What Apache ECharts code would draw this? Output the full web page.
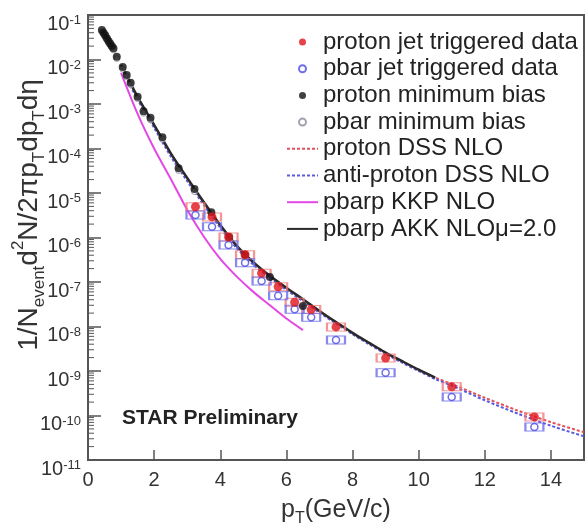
<!DOCTYPE html>
<html>
<head>
<meta charset="utf-8">
<script src="https://cdn.jsdelivr.net/npm/echarts@6/dist/echarts.min.js"></script>
<style>
html,body{margin:0;padding:0;background:#fff;}
#chart{width:587px;height:529px;}
</style>
</head>
<body>
<div id="chart"></div>
<script>
// ---- data ----
const ptMB = [0.42,0.47,0.52,0.57,0.62,0.67,0.72,0.77,0.87,1.05,1.17,1.29,1.5,1.68,1.89,2.25,2.74,3.22,3.73,4.27,4.75,5.5,6.5];
const protonMB = [4.6e-2,4.0e-2,3.5e-2,3.0e-2,2.6e-2,2.3e-2,2.0e-2,1.8e-2,1.15e-2,6.8e-3,4.5e-3,3.0e-3,1.45e-3,6.9e-4,4.9e-4,1.8e-4,3.6e-5,1.23e-5,3.7e-6,1.02e-6,4.1e-7,1.29e-7,2.9e-8];
const ptPbarMB = [0.42,0.47,0.52,0.57,0.62,0.67,0.72,0.77,0.87,1.05,1.17,1.29,1.5,1.68,1.89,2.25,2.74,3.22,3.73,4.27,4.75];
const pbarMB = [4.2e-2,3.7e-2,3.2e-2,2.8e-2,2.4e-2,2.1e-2,1.85e-2,1.65e-2,1.05e-2,6.1e-3,4.1e-3,2.7e-3,1.32e-3,6.2e-4,4.4e-4,1.62e-4,3.2e-5,1.08e-5,3.2e-6,8.8e-7,3.5e-7];
const ptJet = [3.25,3.75,4.25,4.75,5.25,5.75,6.25,6.75,7.5,9,11,13.5];
const protonJet = [4.9e-6,2.9e-6,1.02e-6,4.1e-7,1.58e-7,7.8e-8,3.5e-8,2.4e-8,9.8e-9,1.95e-9,4.4e-10,9.3e-11];
const pbarJet = [3.2e-6,1.74e-6,6.8e-7,2.7e-7,1.05e-7,4.9e-8,2.45e-8,1.62e-8,5.0e-9,9.1e-10,2.6e-10,5.5e-11];
const ptAKK = [1.0,1.5,2.0,2.5,3.0,3.5,4.0,4.5,5.0,5.5,6.0,6.5,7.0,7.5,8.0,8.5,9.0,9.5,10.0,10.5];
const akk = [7.6e-3,1.45e-3,3.4e-4,7.9e-5,2.19e-5,6.3e-6,1.9e-6,6.5e-7,2.8e-7,1.38e-7,7.4e-8,4.1e-8,2.24e-8,1.26e-8,7.2e-9,4.3e-9,2.6e-9,1.66e-9,1.07e-9,7.1e-10];
const ptDSS = [1.0,1.5,2.0,2.5,3.0,3.5,4.0,4.5,5.0,5.5,6.0,6.5,7.0,7.5,8.0,8.5,9.0,9.5,10.0,10.5,11,12,13,14,15];
const dssProton = [7.3e-3,1.4e-3,3.3e-4,7.6e-5,2.1e-5,6.1e-6,1.85e-6,6.3e-7,2.7e-7,1.34e-7,7.2e-8,4.0e-8,2.2e-8,1.24e-8,7.1e-9,4.25e-9,2.58e-9,1.65e-9,1.07e-9,7.1e-10,5.1e-10,2.5e-10,1.29e-10,7.1e-11,4.2e-11];
const dssAnti = [6.6e-3,1.25e-3,2.9e-4,6.7e-5,1.85e-5,5.4e-6,1.65e-6,5.7e-7,2.45e-7,1.22e-7,6.6e-8,3.7e-8,2.05e-8,1.16e-8,6.7e-9,4.0e-9,2.42e-9,1.54e-9,1.0e-9,6.6e-10,4.7e-10,2.2e-10,1.10e-10,5.9e-11,3.4e-11];
const ptKKP = [1.0,1.5,2.0,2.5,3.0,3.5,4.0,4.5,5.0,5.5,6.0,6.5];
const kkp = [5.0e-3,6.0e-4,1.0e-4,2.1e-5,4.2e-6,1.05e-6,3.3e-7,1.32e-7,6.0e-8,3.0e-8,1.51e-8,8.3e-9];
const xTicks = [0,2,4,6,8,10,12,14];
const legendNames = ['proton jet triggered data','pbar jet triggered data','proton minimum bias','pbar minimum bias','proton DSS NLO','anti-proton DSS NLO','pbarp KKP NLO','pbarp AKK NLO\u03bc=2.0'];

const zip = (xs, ys) => xs.map((x, i) => [x, ys[i]]);

// minor log ticks (axis decoration): 2..9 x 10^k
const minorTickVals = [];
for (let k = -11; k < -1; k++) for (let m = 2; m <= 9; m++) minorTickVals.push([0, m * Math.pow(10, k)]);

const FONT = 'Liberation Sans';
const chart = echarts.init(document.getElementById('chart'), null, {renderer: 'canvas'});

const lineLegend = name => ({name: name, itemStyle: {opacity: 0}});

const option = {
  animation: false,
  backgroundColor: '#fff',
  textStyle: {fontFamily: FONT},
  grid: {left: 88, top: 15, right: -1, bottom: 69, show: true, borderColor: '#555', borderWidth: 2, backgroundColor: 'transparent'},
  legend: {
    left: 281, top: 25, orient: 'vertical',
    itemWidth: 31, itemHeight: 7, itemGap: 2.7,
    textStyle: {fontSize: 24, lineHeight: 24, color: '#222', fontFamily: FONT},
    data: [legendNames[0], legendNames[1], legendNames[2], legendNames[3],
      lineLegend(legendNames[4]), lineLegend(legendNames[5]), lineLegend(legendNames[6]), lineLegend(legendNames[7])]
  },
  xAxis: {
    type: 'value', min: 0, max: 15, interval: 2,
    axisLine: {show: true, lineStyle: {color: '#555', width: 2}},
    axisTick: {inside: true, length: 10, lineStyle: {color: '#555', width: 1.5}},
    splitLine: {show: false},
    axisLabel: {
      fontSize: 20, color: '#333', margin: 10, fontFamily: FONT,
      formatter: v => (xTicks.indexOf(v) >= 0 ? String(v) : '')
    }
  },
  yAxis: {
    type: 'log', logBase: 10, min: 1e-11, max: 1e-1, interval: 1,
    axisLine: {show: true, lineStyle: {color: '#555', width: 2}},
    axisTick: {inside: true, length: 13, lineStyle: {color: '#555', width: 1.5}},
    splitLine: {show: false},
    axisLabel: {
      margin: 7, color: '#333', fontFamily: FONT, hideOverlap: false,
      showMinLabel: true, showMaxLabel: true,
      padding: [18, 0, 0, 0],
      formatter: v => '{b|10}{e|' + Math.round(Math.log10(v)) + '}',
      rich: {
        b: {fontSize: 20, lineHeight: 20, verticalAlign: 'bottom', color: '#333', fontFamily: FONT},
        e: {fontSize: 13, lineHeight: 13, verticalAlign: 'top', color: '#333', fontFamily: FONT}
      }
    }
  },
  graphic: [
    {
      type: 'text', x: 29, y: 215, rotation: Math.PI / 2,
      style: {
        text: '{m|1/N}{s|event}{m|d}{p|2}{m|N/2\u03c0p}{s|T}{m|dp}{s|T}{m|d\u03b7}',
        align: 'center', verticalAlign: 'middle', fill: '#333',
        rich: {
          m: {fontSize: 28, lineHeight: 38, verticalAlign: 'middle', fontFamily: FONT, fill: '#333'},
          s: {fontSize: 17, lineHeight: 17, verticalAlign: 'bottom', fontFamily: FONT, fill: '#333'},
          p: {fontSize: 17, lineHeight: 17, verticalAlign: 'top', fontFamily: FONT, fill: '#333'}
        }
      }
    },
    {
      type: 'text', x: 336, y: 510,
      style: {
        text: '{m|p}{s|T}{m|(GeV/c)}',
        align: 'center', verticalAlign: 'middle', fill: '#333',
        rich: {
          m: {fontSize: 25, lineHeight: 34, verticalAlign: 'middle', fontFamily: FONT, fill: '#333'},
          s: {fontSize: 16, lineHeight: 16, verticalAlign: 'bottom', fontFamily: FONT, fill: '#333'}
        }
      }
    },
    {
      type: 'text', x: 122, y: 418,
      style: {text: 'STAR Preliminary', fontSize: 21, fontWeight: 'bold', fontFamily: FONT, fill: '#222', verticalAlign: 'middle', align: 'left'}
    }
  ],
  series: [
    {
      name: 'minorTicks', type: 'custom', silent: true, clip: false,
      data: minorTickVals,
      renderItem: (params, api) => {
        const p = api.coord([0, api.value(1)]);
        return {type: 'line', shape: {x1: p[0], y1: p[1], x2: p[0] + 6, y2: p[1]}, style: {stroke: '#555', lineWidth: 1}};
      }
    },
    {name: legendNames[4], type: 'line', data: zip(ptDSS, dssProton), symbol: 'none', smooth: 0.3,
      lineStyle: {color: '#e0505a', width: 2, type: [3, 2]}, itemStyle: {color: '#e0505a'}, z: 2},
    {name: legendNames[5], type: 'line', data: zip(ptDSS, dssAnti), symbol: 'none', smooth: 0.3,
      lineStyle: {color: '#5a5ae0', width: 2, type: [3, 2]}, itemStyle: {color: '#5a5ae0'}, z: 2},
    {name: legendNames[6], type: 'line', data: zip(ptKKP, kkp), symbol: 'none', smooth: 0.3,
      lineStyle: {color: '#e448e4', width: 2}, itemStyle: {color: '#e448e4'}, z: 2},
    {name: legendNames[7], type: 'line', data: zip(ptAKK, akk), symbol: 'none', smooth: 0.3,
      lineStyle: {color: '#2a2a2a', width: 2.5}, itemStyle: {color: '#2a2a2a'}, z: 3},
    {name: 'pJetSys', type: 'scatter', data: zip(ptJet, protonJet), symbol: 'rect', symbolSize: [18, 8],
      itemStyle: {color: 'rgba(0,0,0,0)', borderColor: '#f07a7a', borderWidth: 1.5}, z: 4},
    {name: 'pbarJetSys', type: 'scatter', data: zip(ptJet, pbarJet), symbol: 'rect', symbolSize: [18, 8],
      itemStyle: {color: 'rgba(0,0,0,0)', borderColor: '#6a6aea', borderWidth: 1.5}, z: 4},
    {name: legendNames[3], type: 'scatter', data: zip(ptPbarMB, pbarMB), symbol: 'circle', symbolSize: 6,
      itemStyle: {color: '#fff', borderColor: '#8a8a9a', borderWidth: 1}, z: 5},
    {name: legendNames[1], type: 'scatter', data: zip(ptJet, pbarJet), symbol: 'circle', symbolSize: 7,
      itemStyle: {color: '#fff', borderColor: '#4a4ae0', borderWidth: 1.5}, z: 6},
    {name: legendNames[2], type: 'scatter', data: zip(ptMB, protonMB), symbol: 'circle', symbolSize: 8,
      itemStyle: {color: '#111'}, z: 7},
    {name: legendNames[0], type: 'scatter', data: zip(ptJet, protonJet), symbol: 'circle', symbolSize: 9,
      itemStyle: {color: '#e0141c'}, z: 8}
  ]
};
chart.setOption(option);
</script>
</body>
</html>
